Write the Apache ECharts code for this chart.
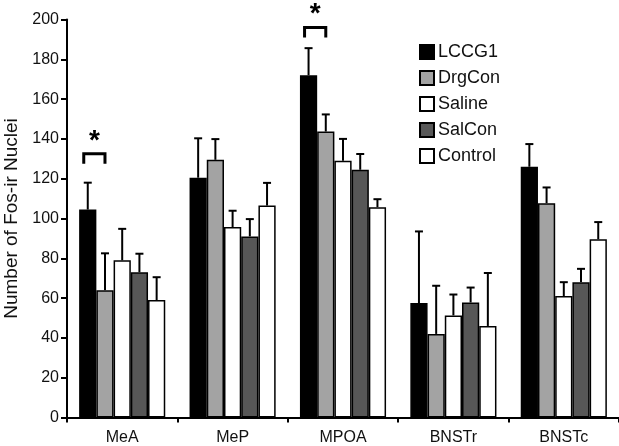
<!DOCTYPE html>
<html><head><meta charset="utf-8">
<script src="https://cdn.jsdelivr.net/npm/echarts@6/dist/echarts.min.js"></script>
<style>html,body{margin:0;padding:0;background:#fff}#c{width:619px;height:446px}</style>
</head><body><div id="c"></div>
<script>
const categories = ['MeA','MeP','MPOA','BNSTr','BNSTc'];
const seriesNames = ['LCCG1','DrgCon','Saline','SalCon','Control'];
const LCCG1   = [104.5, 120.5, 172, 57.5, 126];
const DrgCon  = [64, 129.5, 143.7, 42, 107.7];
const Saline  = [79, 95.7, 129, 51.3, 61];
const SalCon  = [73, 91, 124.5, 57.8, 68];
const Control = [59, 106.5, 105.7, 46, 89.6];
const errLCCG1   = [13.5, 19.8, 13.6, 36, 11.4];
const errDrgCon  = [18.5, 10.4, 8.6, 24.2, 7.9];
const errSaline  = [15.8, 8.2, 11, 10.5, 7];
const errSalCon  = [9.3, 8.7, 7.9, 7.5, 6.7];
const errControl = [11.5, 11.4, 4, 26.6, 8.6];
const yTicks = [0,20,40,60,80,100,120,140,160,180,200];
const sigCategories = ['MeA','MPOA'];
const sigBracketY = [132.5, 196];

const values = [LCCG1, DrgCon, Saline, SalCon, Control];
const errs = [errLCCG1, errDrgCon, errSaline, errSalCon, errControl];
const colors = ['#000000','#a3a3a3','#ffffff','#575757','#ffffff'];
const GAP = 0.22;
const N = seriesNames.length;
const font = '"Liberation Sans", Arial, sans-serif';

const chart = echarts.init(document.getElementById('c'));
const series = [];
seriesNames.forEach((n,i)=>{
  series.push({
    name:n, type:'bar', data:values[i], barGap:'0%', barCategoryGap:(GAP*100)+'%',
    itemStyle:{color:colors[i], borderColor:'#000', borderWidth:1.5},
    z:2
  });
});
seriesNames.forEach((n,i)=>{
  series.push({
    type:'custom', z:3, silent:true,
    data: categories.map((c,k)=>[k, values[i][k], values[i][k]+errs[i][k]]),
    renderItem:function(params, api){
      const band = api.size([1,0])[0];
      const area = band*(1-GAP);
      const bw = area/N;
      const c = api.coord([api.value(0), api.value(1)]);
      const t = api.coord([api.value(0), api.value(2)]);
      const x = c[0] - area/2 + (i+0.5)*bw;
      const style = {stroke:'#000', lineWidth:2};
      return {type:'group', children:[
        {type:'line', shape:{x1:x,y1:c[1],x2:x,y2:t[1]}, style},
        {type:'line', shape:{x1:x-4,y1:t[1],x2:x+4,y2:t[1]}, style}
      ]};
    }
  });
});
series.push({
  type:'custom', z:4, silent:true,
  data: sigCategories.map((c,k)=>[categories.indexOf(c), sigBracketY[k]]),
  renderItem:function(params, api){
    const band = api.size([1,0])[0];
    const area = band*(1-GAP);
    const bw = area/N;
    const c = api.coord([api.value(0), api.value(1)]);
    const x0 = c[0] - area/2 + 0.5*bw - 4;
    const x1 = c[0] - area/2 + 1.5*bw;
    const h = api.size([0,5])[1];
    const style = {stroke:'#000', lineWidth:3, fill:null};
    return {type:'group', children:[
      {type:'polyline', shape:{points:[[x0,c[1]+h],[x0,c[1]],[x1,c[1]],[x1,c[1]+h]]}, style},
      {type:'text', x:(x0+x1)/2, y:c[1]+1, style:{text:'*', font:'bold 28px '+font, fill:'#000', align:'center', verticalAlign:'bottom'}}
    ]};
  }
});

chart.setOption({
  animation:false,
  backgroundColor:'#fff',
  grid:{left:67, right:0, top:19.5, bottom:28.5, containLabel:false, outerBoundsMode:'none'},
  legend:{
    data:seriesNames, orient:'vertical', left:414, top:38, itemWidth:14, itemHeight:14, itemGap:8,
    icon:'rect', textStyle:{fontSize:18, fontFamily:font, color:'#111', padding:[0,0,0,-1]}
  },
  xAxis:{
    type:'category', data:categories,
    axisLine:{lineStyle:{color:'#000', width:2}},
    axisTick:{show:true, alignWithLabel:false, length:5, lineStyle:{color:'#000', width:2}, inside:false},
    axisLabel:{fontSize:16, fontFamily:font, color:'#111', margin:12}
  },
  yAxis:{
    type:'value', min:yTicks[0], max:yTicks[yTicks.length-1], interval:yTicks[1]-yTicks[0],
    name:'Number of Fos-ir Nuclei', nameLocation:'middle', nameGap:36, nameRotate:90,
    nameTextStyle:{fontSize:19, fontFamily:font, color:'#111'},
    axisLine:{show:true, lineStyle:{color:'#000', width:2}},
    axisTick:{show:true, length:6, lineStyle:{color:'#000', width:2}},
    axisLabel:{fontSize:16, fontFamily:font, color:'#111', margin:8},
    splitLine:{show:false}
  },
  series
});
</script></body></html>
